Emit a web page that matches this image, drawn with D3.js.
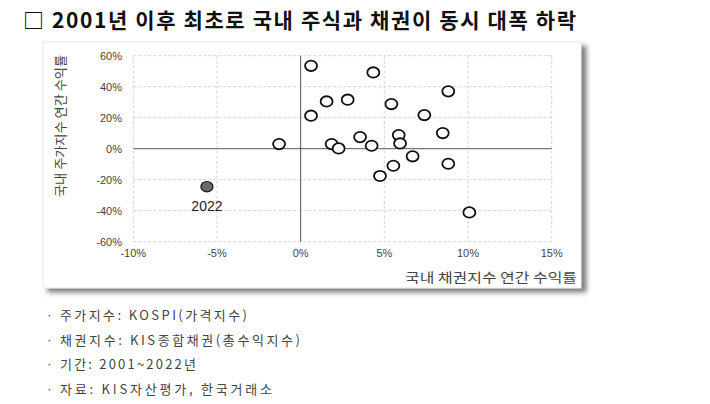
<!DOCTYPE html>
<html>
<head>
<meta charset="utf-8">
<script src="https://cdn.jsdelivr.net/npm/d3@7"></script>
<style>
  body { margin: 0; background: #fff; }
  svg { display: block; }
</style>
</head>
<body>
<script>
// bond index annual return (%) and stock index annual return (%), 2001~2022
var years = [2001, 2002, 2003, 2004, 2005, 2006, 2007, 2008, 2009, 2010, 2011,
             2012, 2013, 2014, 2015, 2016, 2017, 2018, 2019, 2020, 2021, 2022];
var bondRet = [0.62, 4.34, 8.82, 1.55, 2.81, 5.42, 0.62, 7.39, 8.49, 3.55, 5.86,
               -1.29, 1.85, 2.27, 4.24, 5.94, 6.69, 5.54, 8.82, 4.74, 10.08, -5.6];
var stockRet = [53.5, 49.2, 37.0, 30.5, 31.6, 28.8, 21.3, 21.7, 10.1, 7.5, 8.8,
                3.0, 3.0, 0.2, 1.9, 3.4, -4.9, -11.0, -9.7, -17.6, -41.1, -24.5];
var xTicks = [-10, -5, 0, 5, 10, 15];
var yTicks = [-60, -40, -20, 0, 20, 40, 60];
var notes = ["주가지수: KOSPI(가격지수)", "채권지수: KIS종합채권(총수익지수)",
             "기간: 2001~2022년", "자료: KIS자산평가, 한국거래소"];
var noteWidths = [187, 240, 136, 212];

var W = 710, H = 404;
var svg = d3.select("body").append("svg")
    .attr("width", W)
    .attr("height", H);

var defs = svg.append("defs");
var f = defs.append("filter").attr("id", "shadow")
    .attr("x", "-5%").attr("y", "-5%").attr("width", "115%").attr("height", "115%");
f.append("feDropShadow")
    .attr("dx", 5).attr("dy", 4)
    .attr("stdDeviation", 2.5)
    .attr("flood-color", "#666")
    .attr("flood-opacity", 0.85);

var krFont = "'Noto Sans CJK KR', sans-serif";
var tickFont = "'Liberation Sans', Arial, sans-serif";

// title
svg.append("text")
    .attr("x", 23).attr("y", 28)
    .attr("textLength", 553)
    .attr("lengthAdjust", "spacing")
    .style("font-family", krFont)
    .style("font-size", "21px")
    .style("font-weight", 600)
    .style("fill", "#111")
    .text("□ 2001년 이후 최초로 국내 주식과 채권이 동시 대폭 하락");

// chart frame
svg.append("rect")
    .attr("x", 43).attr("y", 42)
    .attr("width", 538).attr("height", 246)
    .attr("fill", "#fff")
    .attr("stroke", "#e8e8e8")
    .attr("filter", "url(#shadow)");

var x = d3.scaleLinear().domain([-10, 15]).range([133.3, 551.7]);
var y = d3.scaleLinear().domain([-60, 60]).range([241.7, 55.7]);

var g = svg.append("g");

// dashed grid
g.selectAll("line.vg")
    .data(xTicks.filter(function (d) { return d !== 0; }))
    .enter().append("line")
    .attr("x1", function (d) { return x(d); })
    .attr("x2", function (d) { return x(d); })
    .attr("y1", y(60)).attr("y2", y(-60))
    .attr("stroke", "#d4d4d4")
    .attr("stroke-dasharray", "3,2");

g.selectAll("line.hg")
    .data(yTicks.filter(function (d) { return d !== 0; }))
    .enter().append("line")
    .attr("y1", function (d) { return y(d); })
    .attr("y2", function (d) { return y(d); })
    .attr("x1", x(-10)).attr("x2", x(15))
    .attr("stroke", "#d4d4d4")
    .attr("stroke-dasharray", "3,2");

// zero lines
g.append("line")
    .attr("x1", x(-10)).attr("x2", x(15))
    .attr("y1", y(0)).attr("y2", y(0))
    .attr("stroke", "#555").attr("stroke-width", 1);
g.append("line")
    .attr("x1", x(0)).attr("x2", x(0))
    .attr("y1", y(60)).attr("y2", y(-60))
    .attr("stroke", "#555").attr("stroke-width", 1);

// tick labels
g.selectAll("text.yt")
    .data(yTicks)
    .enter().append("text")
    .attr("x", 122)
    .attr("y", function (d) { return y(d) + 4; })
    .attr("text-anchor", "end")
    .style("font-family", tickFont)
    .style("font-size", "11px")
    .style("fill", "#444")
    .text(function (d) { return d + "%"; });

g.selectAll("text.xt")
    .data(xTicks)
    .enter().append("text")
    .attr("x", function (d) { return x(d); })
    .attr("y", 257)
    .attr("text-anchor", "middle")
    .style("font-family", tickFont)
    .style("font-size", "11px")
    .style("fill", "#444")
    .text(function (d) { return d + "%"; });

// axis titles
g.append("text")
    .attr("x", 405).attr("y", 282)
    .attr("textLength", 172)
    .attr("lengthAdjust", "spacingAndGlyphs")
    .style("font-family", krFont)
    .style("font-size", "13px")
    .style("fill", "#444")
    .text("국내 채권지수 연간 수익률");

g.append("text")
    .attr("transform", "translate(65,197) rotate(-90)")
    .attr("textLength", 142)
    .attr("lengthAdjust", "spacingAndGlyphs")
    .style("font-family", krFont)
    .style("font-size", "13px")
    .style("fill", "#444")
    .text("국내 주가지수 연간 수익률");

// points
var pts = years.map(function (yr, i) {
    return { year: yr, bx: bondRet[i], sy: stockRet[i] };
});

g.selectAll("ellipse.pt")
    .data(pts)
    .enter().append("ellipse")
    .attr("cx", function (d) { return x(d.bx); })
    .attr("cy", function (d) { return y(d.sy); })
    .attr("rx", 6)
    .attr("ry", 5.2)
    .attr("fill", function (d) { return d.year === 2022 ? "#6b6b6b" : "#fff"; })
    .attr("stroke", "#111")
    .attr("stroke-width", function (d) { return d.year === 2022 ? 1.2 : 1.8; });

var last = pts[pts.length - 1];
g.append("text")
    .attr("x", x(last.bx))
    .attr("y", y(last.sy) + 24)
    .attr("text-anchor", "middle")
    .style("font-family", tickFont)
    .style("font-size", "14px")
    .style("fill", "#222")
    .text(last.year);

// notes
var nt = svg.append("g");
notes.forEach(function (s, i) {
    var yy = 320 + i * 24.6;
    nt.append("text")
        .attr("x", 46).attr("y", yy)
        .style("font-family", krFont)
        .style("font-size", "12px")
        .style("fill", "#555")
        .text("·");
    nt.append("text")
        .attr("x", 60).attr("y", yy)
        .attr("textLength", noteWidths[i])
        .attr("lengthAdjust", "spacing")
        .style("font-family", krFont)
        .style("font-size", "13px")
        .style("fill", "#444")
        .text(s);
});
</script>
</body>
</html>
